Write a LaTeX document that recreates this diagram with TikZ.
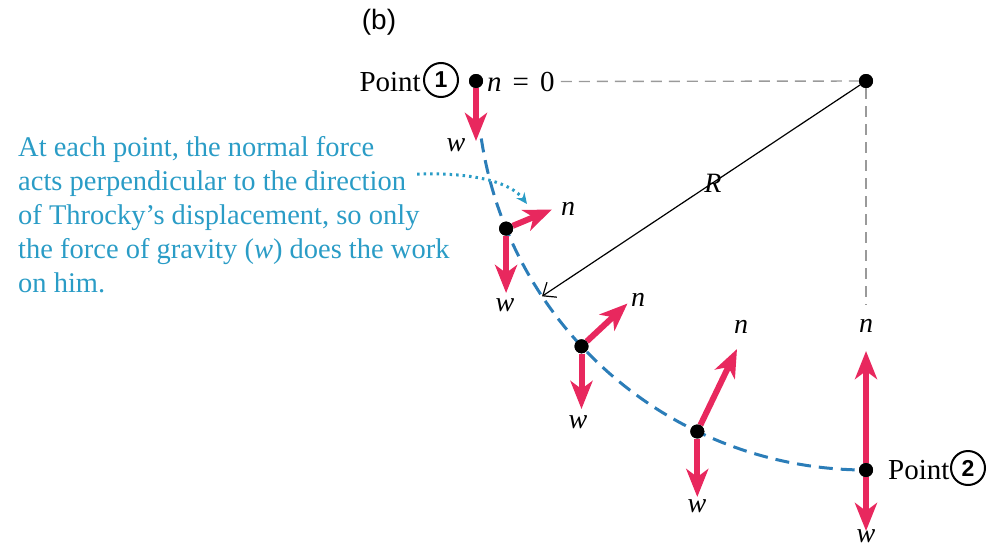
\documentclass[tikz,border=0pt]{standalone}
\usepackage{fontspec}
\setmainfont{Liberation Serif}
\setsansfont{Liberation Sans}
\usetikzlibrary{arrows.meta}
\definecolor{forcered}{HTML}{E8285E}
\definecolor{pathblue}{HTML}{2B7DB8}
\definecolor{noteblue}{HTML}{2A9CC6}
\definecolor{guidegray}{HTML}{9A9A9A}
\tikzset{
  dot/.style={circle,fill=black,inner sep=0pt,minimum size=14pt},
  force/.style={draw=forcered,line width=6pt,-{Stealth[length=28pt,width=22pt,inset=8pt]}},
  guide/.style={draw=guidegray,line width=1.4pt,dash pattern=on 11pt off 7pt},
  lbl/.style={font=\fontsize{28}{28}\selectfont\itshape,inner sep=0pt},
  note/.style={font=\fontsize{28.5}{34}\selectfont,text=noteblue,anchor=base west,inner sep=0pt},
  ptext/.style={font=\fontsize{29}{30}\selectfont,inner sep=0pt},
  circnum/.style={circle,draw,line width=2pt,minimum size=34pt,inner sep=0pt,font=\fontsize{23}{23}\selectfont\sffamily\bfseries}
}
\begin{document}
\begin{tikzpicture}[x=1pt,y=-1pt]
\useasboundingbox (0,0) rectangle (990,549);
% key points
\node[dot] (C) at (866,81) {};
\node[dot] (P1) at (476,81) {};
\node[dot] (Pa) at (506.1,228.6) {};
\node[dot] (Pb) at (581.5,346.3) {};
\node[dot] (Pc) at (697.3,431.5) {};
\node[dot] (P2) at (866,470) {};
% guides
\coordinate (gEnd) at (866,305);
\coordinate (Rend) at (542,296.3);
% dashed path of motion
\draw[pathblue,line width=3pt,dash pattern=on 14pt off 8pt]
  plot[domain=8.5:90,samples=80,smooth] ({866-389*cos(\x)},{81+389*sin(\x)});
% labels at point 1
\node[ptext,anchor=base east] (pt1) at (421,91) {Point};
\node[circnum] (c1) at (441,80) {1};
\node[ptext,anchor=base west] (n0) at (487,91) {\textit{n}\hspace{11pt}=\hspace{11pt}0};
\draw[guide] (n0.east) ++(6,0) coordinate (gStart) -- (C);
\draw[guide] (C) -- (gEnd);
% radius
\draw[line width=1.2pt,-{Straight Barb[length=11pt,width=18pt]}] (C) -- (Rend);
\node[lbl] (Rl) at (713,183) {R};
% forces
\coordinate (w1) at (476,141);
\coordinate (na) at (552,209.5);
\coordinate (wa) at (506.1,293);
\coordinate (nb) at (627.5,303.5);
\coordinate (wb) at (581.5,409);
\coordinate (nc) at (737,349);
\coordinate (wc) at (697.3,497);
\coordinate (n2) at (866,351);
\coordinate (w2) at (866,531);
\draw[force] (P1) -- (w1);
\draw[force] (Pa) -- (na);
\draw[force] (Pa) -- (wa);
\draw[force] (Pb) -- (nb);
\draw[force] (Pb) -- (wb);
\draw[force] (Pc) -- (nc);
\draw[force] (Pc) -- (wc);
\draw[force] (P2) -- (n2);
\draw[force] (P2) -- (w2);
% redraw dots on top
\foreach \p in {P1,Pa,Pb,Pc,P2,C} \fill (\p) circle (7pt);
% force labels
\node[lbl] (lw1) at (456,145) {w};
\node[lbl] (lna) at (568,209) {n};
\node[lbl] (lwa) at (505,305) {w};
\node[lbl] (lnb) at (638,300) {n};
\node[lbl] (lwb) at (578,422) {w};
\node[lbl] (lnc) at (741,327) {n};
\node[lbl] (lwc) at (697,506) {w};
\node[lbl] (ln2) at (866,326) {n};
\node[lbl] (lw2) at (866,536) {w};
% point 2
\node[ptext,anchor=base west] (pt2) at (888,479) {Point};
\node[circnum] (c2) at (968,468) {2};
% (b)
\node[font=\fontsize{28}{28}\selectfont\sffamily,inner sep=0pt] (b) at (379,22) {(b)};
% note
\node[note] (l1) at (18,156) {At each point, the normal force};
\node[note] (l2) at (18,190) {acts perpendicular to the direction};
\node[note] (l3) at (18,224) {of Throcky’s displacement, so only};
\node[note] (l4) at (18,258) {the force of gravity (\textit{w}) does the work};
\node[note] (l5) at (18,292) {on him.};
\draw[noteblue,line width=3pt,dash pattern=on 2.5pt off 4pt,-{Stealth[length=11pt,width=10pt]}]
  (l2.east) ++(11,-9) coordinate (dStart)
  .. controls (478,172) and (512,184) .. (527,204) coordinate (dEnd);
\end{tikzpicture}
\end{document}
